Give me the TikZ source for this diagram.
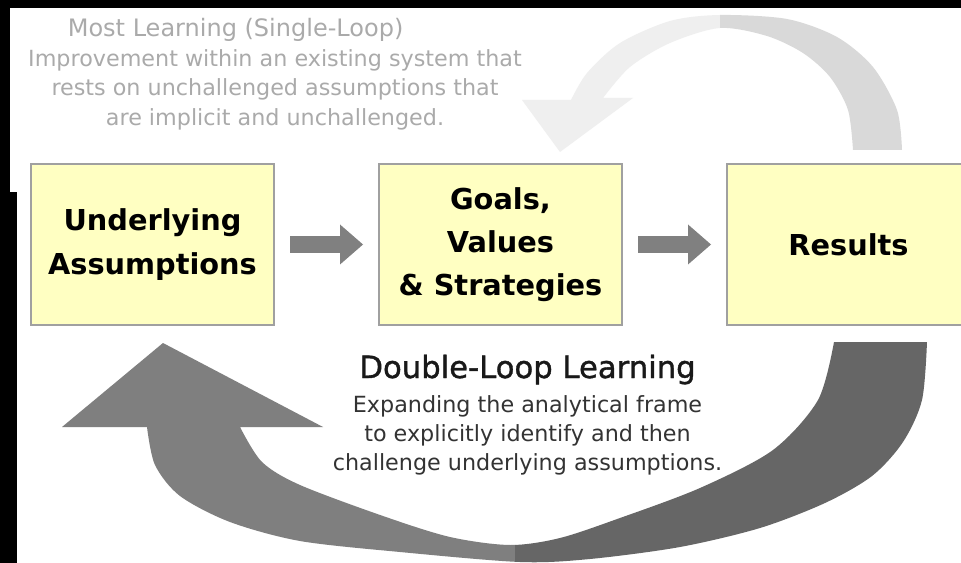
\documentclass[tikz,border=0pt]{standalone}
\usepackage{fontspec}
\setmainfont{DejaVu Sans}
\newfontfamily\headfont[FakeBold=1.2]{DejaVu Sans}
\usetikzlibrary{arrows.meta,positioning}

\definecolor{boxfill}{HTML}{FFFFC2}
\definecolor{boxline}{HTML}{A0A0A0}
\definecolor{flowgray}{HTML}{808080}
\definecolor{loopleft}{HTML}{7F7F7F}
\definecolor{loopright}{HTML}{666666}
\definecolor{faintleft}{HTML}{EFEFEF}
\definecolor{faintright}{HTML}{D9D9D9}
\definecolor{fainttext}{HTML}{AAAAAA}
\definecolor{bodytext}{HTML}{333333}

\begin{document}
\begin{tikzpicture}[
            x = 0.75pt, y = -0.75pt, % pixel grid, y runs downwards
            > = {Triangle[length=17.25pt, width=30pt, line width=0pt]}, % fat arrow head
            node distance = 78.75pt, % gap between boxes
            semithick % line style
        ]

        \tikzstyle{box}=[
            draw = boxline,
            line width = 1.5pt,
            fill = boxfill,
            outer sep = 0pt,
            minimum width = 182.25pt,
            minimum height = 120.75pt,
            align = center,
            font = \fontsize{21.6}{32.5}\selectfont\bfseries
        ]
        \tikzstyle{flow}=[
            ->,
            color = flowgray,
            line width = 12.75pt,
            shorten < = 12pt,
            shorten > = 12pt
        ]
        \tikzstyle{faint}=[fainttext, font = \fontsize{16.7}{22}\selectfont]
        \tikzstyle{body}=[bodytext, font = \fontsize{16.7}{22}\selectfont]

        % frame
        \useasboundingbox (0,0) rectangle (961,563);
        \fill[black] (0,0) rectangle (961,563);
        \fill[white] (10,8) rectangle (961,192);
        \fill[white] (17,192) rectangle (961,563);

        % single loop (faint)
        \path[save path=\singleloop] (560,152) -- (522,100) -- (571,100)
            -- plot[smooth] coordinates {(571,100) (587,73) (620,43) (670,21) (720,15) (787,19) (837,37) (873,67) (897,110) (902,150)}
            -- (853,150)
            -- plot[smooth] coordinates {(853,150) (848,110) (830,77) (803,53) (767,36) (720,28) (670,43) (630,67) (603,98)}
            -- (633,98) -- cycle;
        \begin{scope}
            \clip (0,0) rectangle (720,563);
            \fill[faintleft, use path=\singleloop];
        \end{scope}
        \begin{scope}
            \clip (720,0) rectangle (961,563);
            \fill[faintright, use path=\singleloop];
        \end{scope}

        \node (sltitle) [faint, anchor=base west, font=\fontsize{18}{22}\selectfont] at (63,37) {Most Learning (Single-Loop)};
        \node (slone) [faint, anchor=base] at (275,67) {Improvement within an existing system that};
        \node (sltwo) [faint, anchor=base] at (275,96) {rests on unchallenged assumptions that};
        \node (slthree) [faint, anchor=base] at (275,126) {are implicit and unchallenged.};

        % the three boxes
        \node (assump) [box] at (152.5,244.5) {Underlying\\Assumptions};
        \node (goals) [box, right=of assump] {Goals,\\Values\\\& Strategies};
        \node (results) [box, right=of goals] {Results};

        \path[flow] (assump) edge (goals);
        \path[flow] (goals) edge (results);

        % double loop
        \node (dltitle) [anchor=base, font=\fontsize{23}{28}\headfont, color=black!90] at (527.5,378) {Double-Loop Learning};
        \node (dlone) [body, anchor=base] at (527.5,412) {Expanding the analytical frame};
        \node (dltwo) [body, anchor=base] at (527.5,441) {to explicitly identify and then};
        \node (dlthree) [body, anchor=base] at (527.5,470) {challenge underlying assumptions.};

        \path[save path=\doubleloop] (163,343) -- (323,427) -- (240,427)
            -- plot[smooth] coordinates {(240,427) (262,462) (300,485) (383,516) (450,537) (510,545) (560,538) (620,518) (700,488) (773,450) (818,400) (834,342)}
            -- (927,342)
            -- plot[smooth] coordinates {(927,342) (922,400) (903,442) (872,476) (825,503) (760,528) (680,547) (590,559) (520,562) (400,552) (300,541) (230,522) (180,496) (155,465) (147,427)}
            -- (62,427) -- cycle;
        \begin{scope}
            \clip (0,0) rectangle (515,563);
            \fill[loopleft, use path=\doubleloop];
        \end{scope}
        \begin{scope}
            \clip (515,0) rectangle (961,563);
            \fill[loopright, use path=\doubleloop];
        \end{scope}
    \end{tikzpicture}
\end{document}
